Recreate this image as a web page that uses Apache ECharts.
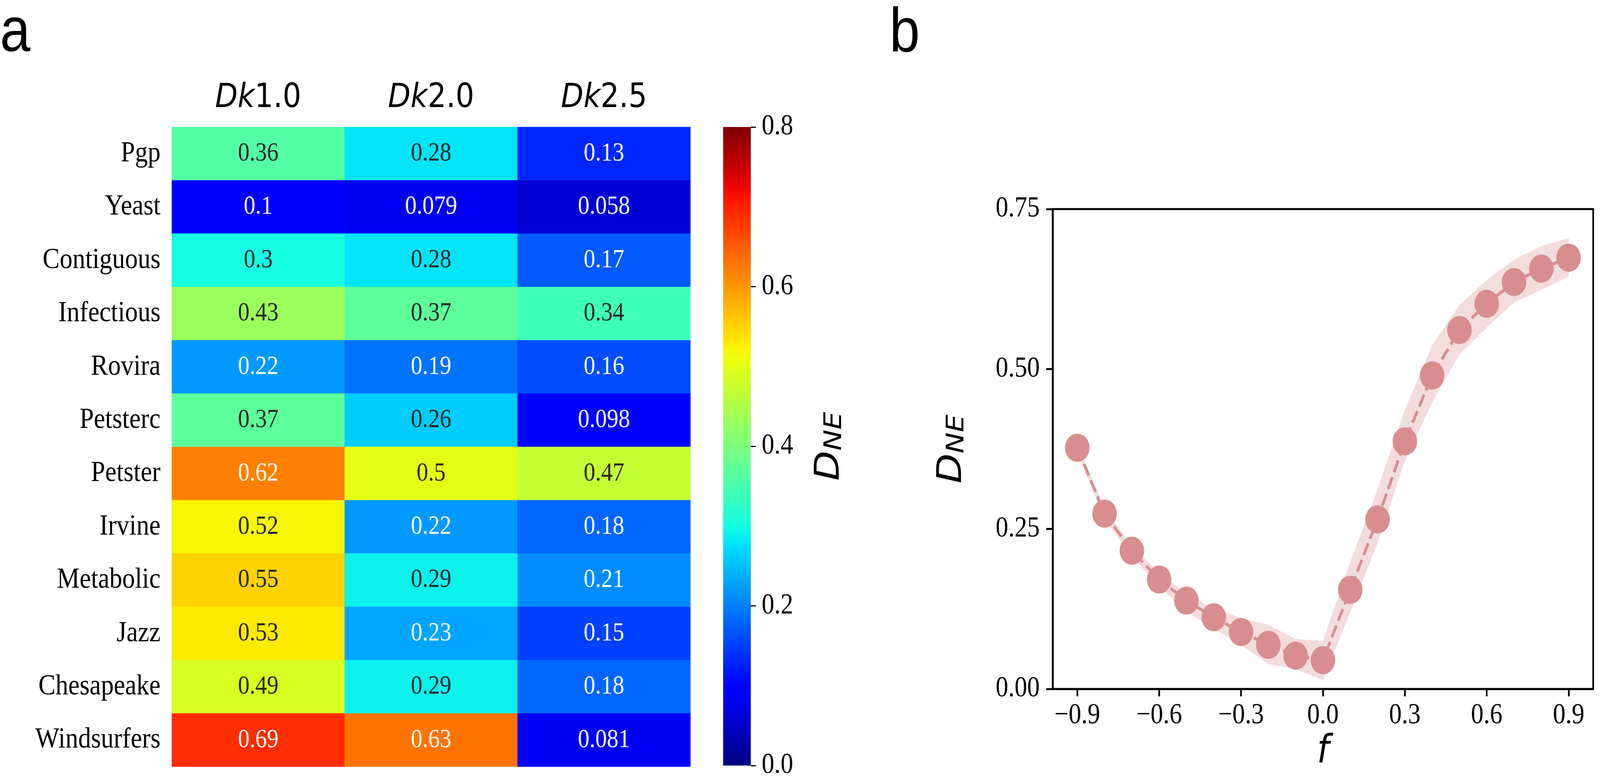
<!DOCTYPE html>
<html>
<head>
<meta charset="utf-8">
<script src="https://cdn.jsdelivr.net/npm/echarts@6/dist/echarts.min.js"></script>
<style>
  html, body { margin: 0; padding: 0; background: #fff; overflow: hidden; width: 100vw; height: 100vh; }
  #chart { width: 4695px; height: 1996px; transform-origin: 0 0; }
</style>
</head>
<body>
<div id="chart"></div>
<script>
// panel a: heatmap
const networks = ['Pgp', 'Yeast', 'Contiguous', 'Infectious', 'Rovira', 'Petsterc', 'Petster',
    'Irvine', 'Metabolic', 'Jazz', 'Chesapeake', 'Windsurfers'];
const dkLabels = ['Dk1.0', 'Dk2.0', 'Dk2.5'];
const dk10 = [0.36, 0.1, 0.3, 0.43, 0.22, 0.37, 0.62, 0.52, 0.55, 0.53, 0.49, 0.69];
const dk20 = [0.28, 0.079, 0.28, 0.37, 0.19, 0.26, 0.5, 0.22, 0.29, 0.23, 0.29, 0.63];
const dk25 = [0.13, 0.058, 0.17, 0.34, 0.16, 0.098, 0.47, 0.18, 0.21, 0.15, 0.18, 0.081];
const colorbarTicks = [0, 0.2, 0.4, 0.6, 0.8];

// panel b: D_NE vs f
const fValues = [-0.9, -0.8, -0.7, -0.6, -0.5, -0.4, -0.3, -0.2, -0.1, 0.0,
    0.1, 0.2, 0.3, 0.4, 0.5, 0.6, 0.7, 0.8, 0.9];
const dneMean = [0.377, 0.274, 0.216, 0.171, 0.138, 0.112, 0.089, 0.069, 0.052, 0.045,
    0.155, 0.265, 0.387, 0.490, 0.561, 0.602, 0.636, 0.657, 0.674];
const dneLow = [0.370, 0.265, 0.207, 0.160, 0.121, 0.094, 0.069, 0.039, 0.031, 0.014,
    0.120, 0.228, 0.356, 0.448, 0.523, 0.565, 0.604, 0.624, 0.644];
const dneHigh = [0.384, 0.281, 0.224, 0.181, 0.149, 0.126, 0.111, 0.100, 0.078, 0.075,
    0.198, 0.312, 0.436, 0.537, 0.600, 0.639, 0.671, 0.692, 0.705];
const fTicks = [-0.9, -0.6, -0.3, 0.0, 0.3, 0.6, 0.9];
const dneTicks = [0, 0.25, 0.5, 0.75];

const SERIF = 'Liberation Serif';
const MATH = 'DejaVu Sans';
const VMAX = 0.8;
const W = 4695, H = 1996;

// matplotlib "jet"
function interp(pts, t) {
    for (let i = 1; i < pts.length; i++) {
        if (t <= pts[i][0]) {
            const [x0, y0] = pts[i - 1], [x1, y1] = pts[i];
            return y0 + (y1 - y0) * (t - x0) / (x1 - x0);
        }
    }
    return pts[pts.length - 1][1];
}
function jetRgb(t) {
    t = Math.max(0, Math.min(1, t));
    const r = interp([[0, 0], [0.35, 0], [0.66, 1], [0.89, 1], [1, 0.5]], t);
    const g = interp([[0, 0], [0.125, 0], [0.375, 1], [0.64, 1], [0.91, 0], [1, 0]], t);
    const b = interp([[0, 0.5], [0.11, 1], [0.34, 1], [0.65, 0], [1, 0]], t);
    return [r, g, b];
}
function toCss(rgb) {
    return 'rgb(' + rgb.map(c => Math.round(c * 255)).join(',') + ')';
}
// seaborn picks the annotation colour from luminance
function textColor(v) {
    const lin = jetRgb(v / VMAX).map(c => c <= 0.03928 ? c / 12.92 : Math.pow((c + 0.055) / 1.055, 2.4));
    const lum = 0.2126 * lin[0] + 0.7152 * lin[1] + 0.0722 * lin[2];
    return lum > 0.408 ? '#262626' : '#ffffff';
}

const jetColors = [];
const jetStops = [];
for (let i = 0; i <= 64; i++) {
    jetColors.push(toCss(jetRgb(i / 64)));
    jetStops.push({ offset: i / 64, color: toCss(jetRgb(i / 64)) });
}

const columns = [dk10, dk20, dk25];
const heatData = [];
columns.forEach((col, c) => {
    col.forEach((v, r) => {
        heatData.push({ value: [c, r, v], label: { color: textColor(v) } });
    });
});

const meanData = fValues.map((f, i) => [f, dneMean[i]]);
const bandData = fValues.map((f, i) => [f, dneLow[i], dneHigh[i]]);

// shaded band: one polygon through all points
function renderBand(params, api) {
    if (params.dataIndexInside !== 0) return null;
    const n = params.dataInsideLength;
    const top = [], bottom = [];
    for (let i = 0; i < n; i++) {
        const x = api.value(0, i);
        top.push(api.coord([x, api.value(2, i)]));
        bottom.push(api.coord([x, api.value(1, i)]));
    }
    return {
        type: 'polygon',
        shape: { points: top.concat(bottom.reverse()) },
        style: { fill: '#f2dcdc', stroke: null }
    };
}

const dneName = '{d|D}{s|NE}';
const dneRich = {
    d: { fontFamily: MATH, fontStyle: 'italic', fontSize: 100, lineHeight: 100, verticalAlign: 'top', padding: [0, 0, 22, 0] },
    s: { fontFamily: MATH, fontStyle: 'italic', fontSize: 72, lineHeight: 72, verticalAlign: 'bottom' }
};

// fit the 4695x1996 layout into whatever viewport we get
const dom = document.getElementById('chart');
const kx = window.innerWidth / W, ky = window.innerHeight / H;
dom.style.transform = 'scale(' + kx + ',' + ky + ')';
const chart = echarts.init(dom, null, {
    width: W, height: H,
    devicePixelRatio: Math.max(kx, ky) * (window.devicePixelRatio || 1)
});

const option = {
    backgroundColor: '#fff',
    animation: false,
    graphic: [
        { type: 'text', left: 0, top: 6, style: { text: 'a', fontFamily: 'Liberation Sans', fontSize: 160, fill: '#000' } },
        { type: 'text', left: 2610, top: 8, style: { text: 'b', fontFamily: 'Liberation Sans', fontSize: 160, fill: '#000' } }
    ],
    grid: [
        { left: 504, top: 325, width: 1522, height: 1637 },
        { left: 2122, top: 325, width: 81, height: 1637 },
        { left: 3089, top: 535, width: 1586, height: 1228, show: true, borderColor: '#000', borderWidth: 5 }
    ],
    xAxis: [
        {
            gridIndex: 0, type: 'category', position: 'top', data: dkLabels,
            axisLine: { show: false },
            axisTick: { alignWithLabel: true, length: 14, lineStyle: { color: '#000', width: 3 } },
            axisLabel: {
                margin: 30, color: '#000',
                formatter: v => '{i|' + v.slice(0, 2) + '}{n|' + v.slice(2) + '}',
                rich: {
                    i: { fontFamily: MATH, fontStyle: 'italic', fontSize: 86, color: '#000' },
                    n: { fontFamily: MATH, fontSize: 86, color: '#000' }
                }
            }
        },
        {
            gridIndex: 1, type: 'category', data: [''],
            axisLine: { show: false }, axisTick: { show: false }, axisLabel: { show: false }
        },
        {
            gridIndex: 2, type: 'value', min: -0.99, max: 0.99,
            name: 'f', nameLocation: 'middle', nameGap: 112,
            nameTextStyle: { fontFamily: MATH, fontStyle: 'italic', fontSize: 100, color: '#000' },
            axisLine: { show: true, onZero: false, lineStyle: { color: '#000', width: 5 } },
            axisTick: { customValues: fTicks, length: 19, lineStyle: { color: '#000', width: 5 } },
            axisLabel: {
                customValues: fTicks, margin: 32, color: '#000', fontFamily: SERIF, fontSize: 74,
                formatter: v => v.toFixed(1).replace('-', '\u2212')
            },
            splitLine: { show: false }
        }
    ],
    yAxis: [
        {
            gridIndex: 0, type: 'category', data: networks, inverse: true,
            axisLine: { show: false },
            axisTick: { alignWithLabel: true, length: 15, lineStyle: { color: '#000', width: 3 } },
            axisLabel: { margin: 33, color: '#000', fontFamily: SERIF, fontSize: 75 }
        },
        {
            gridIndex: 1, type: 'value', position: 'right', min: 0, max: VMAX, interval: 0.2,
            name: dneName, nameLocation: 'middle', nameGap: 182, nameRotate: 90,
            nameTextStyle: { rich: dneRich, color: '#000' },
            axisLine: { show: false },
            axisTick: { show: true, length: 15, lineStyle: { color: '#000', width: 3 } },
            axisLabel: {
                margin: 32, color: '#000', fontFamily: SERIF, fontSize: 74,
                formatter: v => colorbarTicks.includes(+v.toFixed(2)) ? v.toFixed(1) : ''
            },
            splitLine: { show: false }
        },
        {
            gridIndex: 2, type: 'value', min: 0, max: 0.75, interval: 0.25,
            name: dneName, nameLocation: 'middle', nameGap: 245, nameRotate: 90,
            nameTextStyle: { rich: dneRich, color: '#000' },
            axisLine: { show: true, onZero: false, lineStyle: { color: '#000', width: 5 } },
            axisTick: { length: 19, lineStyle: { color: '#000', width: 5 } },
            axisLabel: {
                margin: 38, color: '#000', fontFamily: SERIF, fontSize: 74,
                formatter: v => dneTicks.includes(v) ? v.toFixed(2) : ''
            },
            splitLine: { show: false }
        }
    ],
    visualMap: {
        show: false, type: 'continuous', seriesIndex: 0, dimension: 2,
        min: 0, max: VMAX, inRange: { color: jetColors }
    },
    series: [
        {
            type: 'heatmap', xAxisIndex: 0, yAxisIndex: 0, data: heatData,
            label: {
                show: true, fontFamily: SERIF, fontSize: 68,
                formatter: p => String(p.value[2])
            },
            itemStyle: { borderWidth: 0 },
            emphasis: { disabled: true }
        },
        {
            // colorbar
            type: 'bar', xAxisIndex: 1, yAxisIndex: 1, data: [VMAX],
            barWidth: '100%', silent: true,
            itemStyle: { color: new echarts.graphic.LinearGradient(0, 1, 0, 0, jetStops) }
        },
        {
            type: 'custom', xAxisIndex: 2, yAxisIndex: 2, data: bandData,
            renderItem: renderBand, silent: true, z: 1
        },
        {
            type: 'line', xAxisIndex: 2, yAxisIndex: 2, data: meanData, z: 3,
            symbol: 'circle', symbolSize: 72,
            itemStyle: { color: '#d88e8e' },
            lineStyle: { color: '#d88e8e', width: 8, type: [33, 13] }
        }
    ]
};

chart.setOption(option);
</script>
</body>
</html>
